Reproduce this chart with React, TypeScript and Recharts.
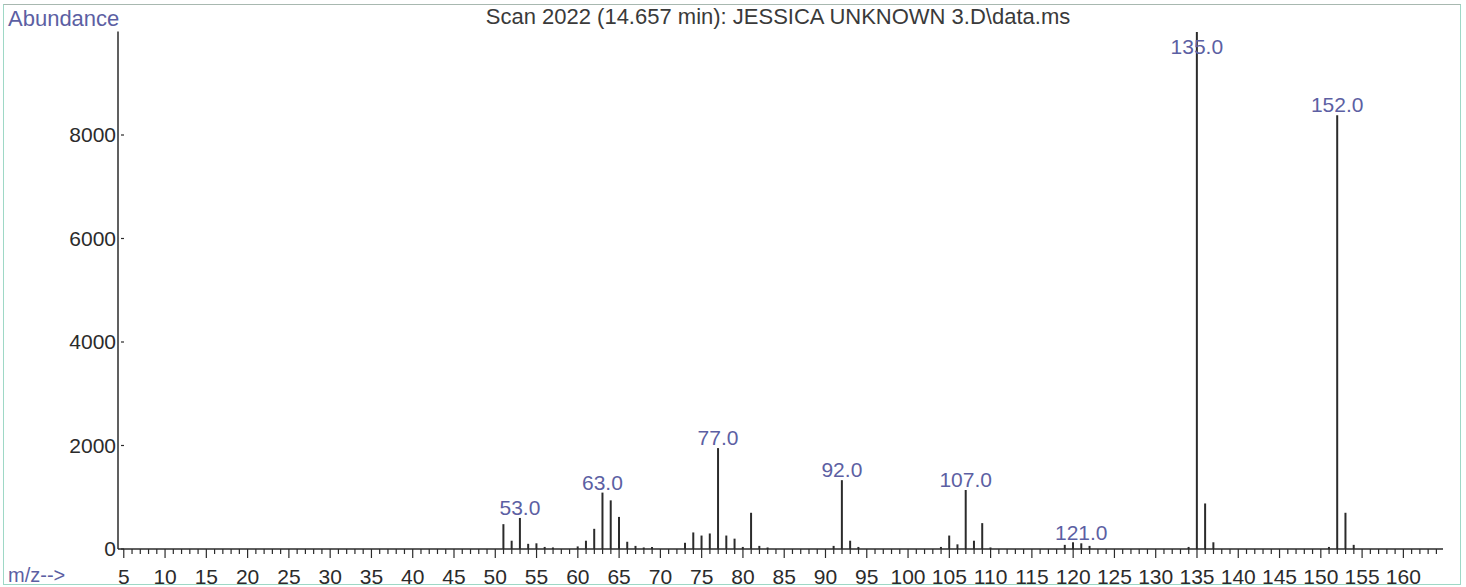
import React from 'react';
import { ComposedChart, Bar, XAxis, YAxis, LabelList } from 'recharts';

// m/z values and their abundances for scan 2022
const mzValues = [
  51, 52, 53, 54, 55, 56, 57, 60, 61, 62, 63, 64, 65, 66, 67, 68, 69,
  73, 74, 75, 76, 77, 78, 79, 80, 81, 82, 83,
  91, 92, 93, 94, 104, 105, 106, 107, 108, 109, 110,
  119, 120, 121, 122, 134, 135, 136, 137, 151, 152, 153, 154,
];
const abundances = [
  480, 160, 600, 100, 110, 40, 30, 50, 160, 390, 1090, 940, 620, 140, 60, 30, 40,
  120, 320, 260, 300, 1950, 260, 200, 40, 700, 60, 30,
  60, 1330, 160, 40, 40, 260, 90, 1140, 160, 500, 30,
  80, 130, 110, 60, 40, 9990, 880, 130, 40, 8380, 700, 80,
];
// peaks that get an m/z tag above them
const taggedPeaks = [53, 63, 77, 92, 107, 121, 135, 152];

const yTicks = [0, 2000, 4000, 6000, 8000];
const xTicks: number[] = [];
for (let m = 5; m <= 164; m++) xTicks.push(m);

const rows = mzValues.map((mz, i) => ({
  mz,
  abundance: abundances[i],
  tag: taggedPeaks.includes(mz) ? mz.toFixed(1) : '',
}));

const FONT = '"Liberation Sans", Arial, sans-serif';
const INK = '#2b2b2b';
const TAG = '#5c5fa3';

const MzTick = ({ x, y, payload }: any) => {
  const v = payload.value as number;
  const major = v % 5 === 0;
  return (
    <g>
      <line x1={x} x2={x} y1={y} y2={y + (major ? 9 : 5)} stroke={INK} strokeWidth={1.2} />
      {major && v <= 160 && (
        <text x={x} y={y + 35} textAnchor="middle" fontSize={21} fontFamily={FONT} fill={INK}>
          {v}
        </text>
      )}
    </g>
  );
};

const AbundanceTick = ({ x, y, payload }: any) => (
  <g>
    <line x1={x + 3} x2={x + 6} y1={y} y2={y} stroke={INK} strokeWidth={1.2} />
    <text x={x - 2} y={y + 7} textAnchor="end" fontSize={21} fontFamily={FONT} fill={INK}>
      {payload.value}
    </text>
  </g>
);

const PeakTag = ({ x, y, width, value }: any) => {
  if (!value) return null;
  const ty = Math.max(y - 3, 54);
  return (
    <text x={x + width / 2} y={ty} textAnchor="middle" fontSize={21} fontFamily={FONT} fill={TAG}>
      {value}
    </text>
  );
};

export default function App() {
  return (
    <div style={{ position: 'absolute', left: 0, top: 0, width: 1466, height: 587, background: '#fff' }}>
      <div
        style={{
          position: 'absolute', left: 3, top: 4, width: 1458, height: 581,
          border: '1.5px solid #9ed8c6', borderTopColor: '#a8b8b0', boxSizing: 'border-box',
        }}
      />
      <div style={{ position: 'absolute', left: 8, top: 6, fontFamily: FONT, fontSize: 22, color: TAG }}>
        Abundance
      </div>
      <div style={{ position: 'absolute', left: 8, top: 564, fontFamily: FONT, fontSize: 20, color: TAG }}>
        m/z--&gt;
      </div>
      <div
        style={{
          position: 'absolute', left: 0, width: 1556, top: 4, textAlign: 'center',
          fontFamily: FONT, fontSize: 22, color: '#3a3a3a',
        }}
      >
        {'Scan 2022 (14.657 min): JESSICA UNKNOWN 3.D\\data.ms'}
      </div>
      <div style={{ position: 'absolute', left: 0, top: 0 }}>
        <ComposedChart
          width={1466}
          height={587}
          data={rows}
          margin={{ top: 31.5, right: 23, bottom: 0, left: 0 }}
        >
          <XAxis
            dataKey="mz"
            type="number"
            domain={[4.3, 164.8]}
            ticks={xTicks}
            interval={0}
            tick={<MzTick />}
            tickSize={0}
            tickMargin={0}
            tickLine={false}
            height={38}
            stroke={INK}
            strokeWidth={1.5}
            allowDataOverflow
          />
          <YAxis
            type="number"
            domain={[0, 10000]}
            ticks={yTicks}
            interval={0}
            tick={<AbundanceTick />}
            tickSize={0}
            tickMargin={0}
            tickLine={false}
            width={118}
            stroke={INK}
            strokeWidth={1.5}
            allowDataOverflow
          />
          <Bar dataKey="abundance" fill={INK} barSize={2} isAnimationActive={false}>
            <LabelList dataKey="tag" content={<PeakTag />} />
          </Bar>
        </ComposedChart>
      </div>
    </div>
  );
}
